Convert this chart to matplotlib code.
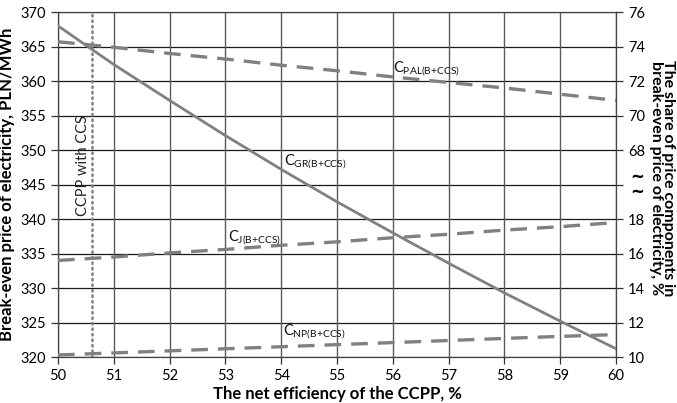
import numpy as np
import matplotlib
matplotlib.use("Agg")
import matplotlib.pyplot as plt

plt.rcParams['font.family'] = ['Lato', 'DejaVu Sans']
plt.rcParams['mathtext.fontset'] = 'custom'
plt.rcParams['mathtext.rm'] = 'Lato'

eff = [50, 51, 52, 53, 54, 55, 56, 57, 58, 59, 60]
c_gr = [368.0, 362.4, 357.2, 352.1, 347.2, 342.5, 338.0, 333.6, 329.3, 325.2, 321.2]
c_pal = [365.7, 364.9, 364.0, 363.2, 362.3, 361.5, 360.6, 359.8, 359.0, 358.1, 357.2]
c_j = [334.0, 334.5, 335.1, 335.6, 336.2, 336.7, 337.3, 337.8, 338.4, 338.9, 339.5]
c_np = [320.3, 320.6, 320.9, 321.2, 321.5, 321.8, 322.1, 322.4, 322.7, 323.0, 323.25]

left_ticks = [320, 325, 330, 335, 340, 345, 350, 355, 360, 365, 370]
right_labels = ['10', '12', '14', '16', '18', '', '68', '70', '72', '74', '76']
x_ticks = [50, 51, 52, 53, 54, 55, 56, 57, 58, 59, 60]
ccs_eff = 50.6

fig = plt.figure(figsize=(6.77, 4.03), dpi=100)
ax = fig.add_axes([0.0857, 0.114, 0.8243, 0.856])
ax.set_xlim(50, 60)
ax.set_ylim(320, 370)

for y in left_ticks:
    ax.axhline(y, color='#1a1a1a', lw=0.9, zorder=1)
for x in x_ticks:
    ax.axvline(x, color='#5a5a5a', lw=1.0, zorder=1)

col = '#808080'
ax.plot(eff, c_gr, color=col, lw=2.0, zorder=3)
ax.plot(eff, c_pal, color=col, lw=2.4, dashes=(5, 3), zorder=3)
ax.plot(eff, c_j, color=col, lw=2.4, dashes=(5, 3), zorder=3)
ax.plot(eff, c_np, color=col, lw=2.4, dashes=(5, 3), zorder=3)
ax.axvline(ccs_eff, color='#808080', lw=1.8, ls=(0, (0.6, 1.6)), dash_capstyle='round', zorder=2)

ax.text(ccs_eff - 0.02, 347.8, 'CCPP with CCS', rotation=90, ha='right', va='center',
        fontsize=10.5, color='#222222')

ax.text(56.0, 361.3, r'C$_{\mathregular{PAL(B{+}CCS)}}$', fontsize=10.5, color='#111111')
ax.text(54.05, 347.8, r'C$_{\mathregular{GR(B{+}CCS)}}$', fontsize=10.5, color='#111111')
ax.text(53.05, 336.9, r'C$_{\mathregular{J(B{+}CCS)}}$', fontsize=10.5, color='#111111')
ax.text(54.03, 323.2, r'C$_{\mathregular{NP(B{+}CCS)}}$', fontsize=10.5, color='#111111')

ax.set_xticks(x_ticks)
ax.set_yticks(left_ticks)
ax.tick_params(axis='both', labelsize=10.5, direction='out', length=5, color='#333333', width=0.9)
for s in ax.spines.values():
    s.set_color('#444444')
    s.set_linewidth(0.9)

ax.set_xlabel('The net efficiency of the CCPP, %', fontsize=12, fontweight='bold', labelpad=2)
ax.set_ylabel('Break-even price of electricity, PLN/MWh', fontsize=12, fontweight='bold', labelpad=4)

ax2 = ax.twinx()
ax2.set_ylim(320, 370)
ax2.set_yticks(left_ticks)
ax2.set_yticklabels(right_labels)
ax2.tick_params(axis='y', labelsize=10.5, direction='out', length=5, color='#333333', width=0.9)
for s in ax2.spines.values():
    s.set_visible(False)
fig.text(662 / 677, 1 - 178 / 403, 'The share of price components in\nbreak-even price of electricity, %',
         fontsize=11.5, fontweight='bold', rotation=270, ha='center', va='center',
         linespacing=0.85, multialignment='center')
ax2.text(1.037, 0.50, '~\n~', transform=ax.transAxes, ha='center', va='center',
         fontsize=12, fontweight='bold', family='DejaVu Sans', linespacing=0.8)

fig.savefig('out.png', dpi=100)
